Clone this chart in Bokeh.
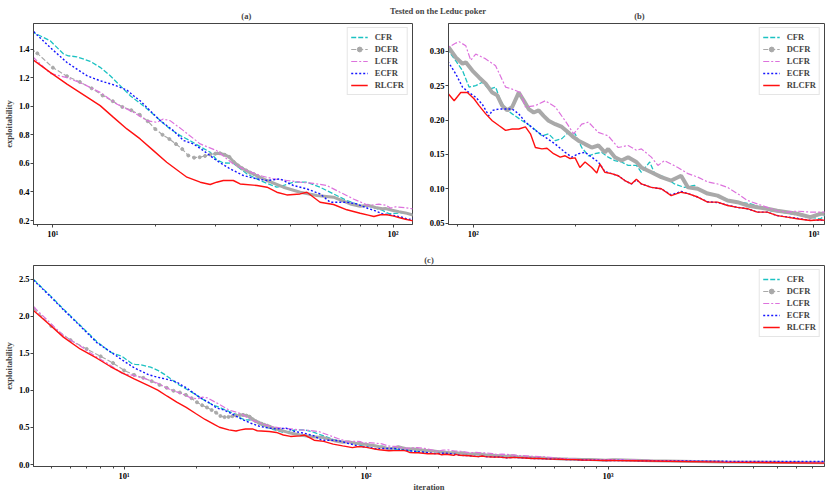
from bokeh.plotting import figure
from bokeh.models import Range1d, FixedTicker, NumeralTickFormatter, Legend, LegendItem, Label
from bokeh.layouts import column, row
from bokeh.embed import file_html
from bokeh.resources import INLINE

# ---------------- data (iteration, exploitability) ----------------
CFR = [(4.22, 2.50), (4.95, 2.28), (5.61, 2.10), (6.58, 1.88), (7.71, 1.66), (8.77, 1.516), (9.82, 1.458),
       (10.75, 1.365), (11.1, 1.353), (11.76, 1.346), (12.87, 1.314), (13.77, 1.272), (14.74, 1.213),
       (15.77, 1.144), (16.87, 1.074), (18.05, 1.02), (19.3, 0.964), (20.7, 0.899), (22.1, 0.841),
       (23.7, 0.794), (25.3, 0.759), (27.1, 0.717), (29.0, 0.678), (30.3, 0.625), (31.7, 0.603),
       (33.9, 0.60), (37.2, 0.526), (40.6, 0.48), (45.5, 0.433), (47.6, 0.445), (50.9, 0.468),
       (55.8, 0.468), (61.0, 0.433), (66.8, 0.386), (73.1, 0.34), (80.0, 0.305),
       (84.5, 0.301), (88.8, 0.286), (92.9, 0.272), (97.1, 0.248), (101.6, 0.250), (106.2, 0.255),
       (111.1, 0.245), (116.2, 0.248), (120.2, 0.228), (124.3, 0.216), (130, 0.209), (139.1, 0.199),
       (148.7, 0.190), (159, 0.177), (166.3, 0.180), (174, 0.170), (181.9, 0.173), (190.2, 0.182),
       (199, 0.180), (208.1, 0.160), (217.7, 0.148), (227.6, 0.151), (238, 0.153), (248.9, 0.146),
       (260.4, 0.141), (272.3, 0.139), (284.8, 0.134), (301.2, 0.134), (311.5, 0.124), (329.6, 0.139),
       (340.7, 0.122), (364.4, 0.117), (389.6, 0.107), (416.8, 0.102), (445.8, 0.105), (466.2, 0.097),
       (498.7, 0.093), (533.3, 0.088), (570.4, 0.083), (610, 0.0805), (652.5, 0.078), (698, 0.073),
       (746.5, 0.068), (798.5, 0.066), (853.9, 0.0636), (913.4, 0.061), (976.8, 0.0587),
       (1044.8, 0.056), (1075, 0.061), (1500, 0.052), (3000, 0.037), (7850, 0.025)]

DCFR = [(4.22, 2.11), (5, 1.87), (6, 1.68), (7, 1.56), (8, 1.46), (9, 1.37), (10, 1.27), (11, 1.21),
        (12, 1.17), (13, 1.125), (14, 1.075), (15, 1.035), (16, 0.995), (17, 0.972), (18, 0.94),
        (19, 0.895), (20, 0.84), (21, 0.80), (22, 0.77), (23, 0.735), (24, 0.70), (25, 0.655),
        (26, 0.64), (27, 0.643), (28, 0.652), (29, 0.662), (30, 0.668), (31, 0.67), (32, 0.66),
        (33, 0.645), (34, 0.61), (35, 0.585), (36, 0.565), (37, 0.55), (38, 0.535), (39, 0.524),
        (40, 0.51), (42.6, 0.48), (47.6, 0.433), (53.3, 0.398), (59.7, 0.375), (66.8, 0.363),
        (74.8, 0.316), (80, 0.30),
        (84.5, 0.306), (88.8, 0.291), (92.9, 0.282), (95, 0.284), (99.3, 0.272), (103.9, 0.262),
        (108.7, 0.253), (113.6, 0.240), (117.5, 0.236), (121.5, 0.221), (125.7, 0.214), (130, 0.219),
        (135.9, 0.240), (140.7, 0.228), (145.4, 0.216), (150.4, 0.211), (155.5, 0.214), (160.8, 0.206),
        (166.3, 0.199), (174, 0.194), (181.9, 0.190), (190.2, 0.182), (196.9, 0.175), (203.5, 0.170),
        (212.8, 0.165), (222.6, 0.160), (232.8, 0.163), (243.4, 0.153), (248.9, 0.158), (260.4, 0.146),
        (272.3, 0.141), (284.8, 0.146), (301.2, 0.139), (311.5, 0.131), (333.2, 0.124), (356.3, 0.117),
        (381.1, 0.112), (407.6, 0.119), (427, 0.102), (455.9, 0.100), (487.6, 0.093), (521.5, 0.090),
        (557.8, 0.083), (596.6, 0.0805), (638.1, 0.0757), (682.5, 0.073), (730, 0.071), (780.7, 0.068),
        (835, 0.066), (893.1, 0.0636), (976.8, 0.0587), (1044.8, 0.0636), (1075, 0.0636),
        (1500, 0.050), (3000, 0.035), (7850, 0.022)]

LCFR = [(4.22, 2.13), (4.95, 1.91), (5.61, 1.74), (6.58, 1.60), (7.71, 1.45), (8.77, 1.341), (9.82, 1.23),
        (11.0, 1.20), (12.3, 1.155), (13.77, 1.097), (15.4, 1.015), (17.26, 0.957), (18.88, 0.899),
        (20.2, 0.887), (21.1, 0.91), (22.1, 0.899), (24.2, 0.829), (27.1, 0.736), (30.3, 0.689),
        (33.9, 0.596), (37.2, 0.549), (40.6, 0.515), (44.5, 0.491), (48.7, 0.48), (53.3, 0.468),
        (58.3, 0.46), (63.8, 0.445), (69.8, 0.398), (76.4, 0.351),
        (84.5, 0.306), (88.8, 0.312), (90.8, 0.314), (95, 0.308), (98.2, 0.287), (101.6, 0.296),
        (108.7, 0.289), (116.2, 0.279), (124.3, 0.248), (130, 0.245), (137.5, 0.240), (142.2, 0.219),
        (152.1, 0.221), (162.6, 0.228), (174, 0.219), (186, 0.199), (196.9, 0.180), (208.1, 0.194),
        (217.7, 0.197), (232.8, 0.182), (248.9, 0.177), (266.3, 0.160), (284.8, 0.163), (301.2, 0.156),
        (311.5, 0.158), (333.2, 0.146), (348.4, 0.134), (364.4, 0.141), (398.6, 0.131), (427, 0.122),
        (455.9, 0.117), (487.6, 0.110), (521.5, 0.107), (557.8, 0.102), (596.6, 0.093), (638.1, 0.083),
        (682.5, 0.078), (730, 0.073), (780.7, 0.068), (835, 0.066), (893.1, 0.0674), (976.8, 0.066),
        (1075, 0.066), (1500, 0.055), (3000, 0.040), (7850, 0.027)]

ECFR = [(4.22, 2.49), (4.95, 2.27), (5.61, 2.09), (6.58, 1.87), (7.71, 1.645), (8.77, 1.523), (9.82, 1.411),
        (11.0, 1.306), (11.76, 1.26), (12.6, 1.213), (13.77, 1.178), (15.07, 1.15), (16.5, 1.113),
        (17.26, 1.073), (18.05, 1.038), (19.3, 0.969), (20.66, 0.90), (22.6, 0.829), (24.2, 0.76),
        (25.9, 0.736), (27.7, 0.689), (30.3, 0.619), (33.2, 0.561), (36.3, 0.515), (39.8, 0.491),
        (42.6, 0.48), (46.6, 0.491), (50.9, 0.445), (55.8, 0.421), (61.0, 0.386), (65.3, 0.328),
        (73.1, 0.328), (78.2, 0.316),
        (84.5, 0.284), (88.8, 0.267), (92.9, 0.248), (97.1, 0.240), (101.6, 0.233), (106.2, 0.223),
        (111.1, 0.206), (113.6, 0.214), (118.8, 0.216), (130, 0.216), (135.9, 0.209), (142.2, 0.197),
        (152.1, 0.185), (162.6, 0.175), (174, 0.165), (186, 0.153), (194.6, 0.146), (203.5, 0.151),
        (212.8, 0.153), (222.6, 0.146), (232.8, 0.139), (243.4, 0.125), (254.6, 0.122), (266.3, 0.119),
        (278.5, 0.112), (291.2, 0.107), (301.2, 0.113), (311.5, 0.107), (333.2, 0.102), (356.3, 0.100),
        (381.1, 0.091), (407.6, 0.096), (427, 0.093), (455.9, 0.088), (487.6, 0.081), (521.5, 0.080),
        (557.8, 0.076), (596.6, 0.073), (638.1, 0.071), (682.5, 0.066), (730, 0.066), (780.7, 0.061),
        (835, 0.059), (893.1, 0.057), (976.8, 0.054), (1075, 0.054), (1500, 0.050), (3000, 0.043),
        (7850, 0.040)]

RLCFR = [(4.22, 2.08), (4.95, 1.88), (5.61, 1.72), (6.58, 1.56), (7.71, 1.435), (8.77, 1.323), (9.82, 1.237),
         (11.0, 1.155), (12.87, 1.05), (13.77, 1.004), (15.07, 0.922), (16.5, 0.841), (18.05, 0.771),
         (19.75, 0.689), (21.6, 0.608), (23.66, 0.538), (24.77, 0.503), (27.1, 0.468), (29.0, 0.452),
         (30.3, 0.468), (31.7, 0.48), (33.9, 0.48), (35.5, 0.456), (39.8, 0.445), (42.6, 0.433),
         (45.5, 0.398), (48.7, 0.379), (53.3, 0.386), (55.8, 0.398), (61.0, 0.328), (66.8, 0.312),
         (73.1, 0.275), (80.0, 0.251),
         (84.5, 0.238), (87.8, 0.228), (91.8, 0.240), (96.0, 0.240), (100.4, 0.231), (103.9, 0.221),
         (108.7, 0.209), (113.6, 0.199), (118.8, 0.192), (124.3, 0.185), (130, 0.187), (135.9, 0.187),
         (142.2, 0.190), (147.1, 0.180), (152.1, 0.160), (159, 0.158), (164.5, 0.159), (172, 0.151),
         (179.9, 0.146), (186, 0.148), (192.4, 0.144), (199, 0.145), (205.5, 0.131), (212.8, 0.139),
         (222.6, 0.131), (230.4, 0.123), (235.4, 0.136), (243.4, 0.124), (254.6, 0.122), (266.3, 0.119),
         (278.5, 0.112), (291.2, 0.107), (301.2, 0.114), (311.5, 0.107), (333.2, 0.102), (356.3, 0.100),
         (381.1, 0.090), (407.6, 0.095), (427, 0.093), (455.9, 0.088), (487.6, 0.0805), (521.5, 0.0805),
         (557.8, 0.0757), (596.6, 0.073), (638.1, 0.071), (682.5, 0.066), (730, 0.066), (780.7, 0.061),
         (835, 0.0587), (893.1, 0.0563), (976.8, 0.0539), (1044.8, 0.055), (1075, 0.054),
         (1500, 0.047), (3000, 0.032), (7850, 0.018)]

SERIES = ["CFR", "DCFR", "LCFR", "ECFR", "RLCFR"]

# axes ticks
YTICKS_A = [0.2, 0.4, 0.6, 0.8, 1.0, 1.2, 1.4]
YTICKS_B = [0.05, 0.10, 0.15, 0.20, 0.25, 0.30]
YTICKS_C = [0.0, 0.5, 1.0, 1.5, 2.0, 2.5]
XMAJOR_A = [10, 100]
XMAJOR_B = [100, 1000]
XMAJOR_C = [10, 100, 1000]
XLABELS = {10: "10\u00b9", 100: "10\u00b2", 1000: "10\u00b3"}
XMINOR_A = [9, 20, 30, 40, 50, 60, 70, 80, 90]
XMINOR_B = [90, 200, 300, 400, 500, 600, 700, 800, 900]
XMINOR_C = [5, 6, 7, 8, 9, 20, 30, 40, 50, 60, 70, 80, 90, 200, 300, 400, 500, 600, 700, 800, 900,
            2000, 3000, 4000, 5000, 6000, 7000]

FONT = "Liberation Serif"
FS = "8.5px"
EDGE = "#444444"
C_CFR = "#1cc2c2"
C_DCFR = "#a9a9a9"
C_LCFR = "#dd72dd"
C_ECFR = "#1515ff"
C_RLCFR = "#ff1010"


def split(data):
    return [d[0] for d in data], [d[1] for d in data]


def make_panel(w, h, xr, yr, yticks, yfmt, xmajor, xminor, borders, band_w,
               ylabel=None, xlabel=None, title=None):
    left, right, top, bottom = borders
    p = figure(width=w, height=h, x_axis_type="log", x_range=Range1d(*xr), y_range=Range1d(*yr),
               toolbar_location=None, output_backend="svg", title=title,
               min_border_left=left, min_border_right=right, min_border_top=top, min_border_bottom=bottom)
    p.xgrid.visible = False
    p.ygrid.visible = False
    p.outline_line_color = EDGE
    p.outline_line_width = 1
    p.background_fill_color = "white"
    p.border_fill_color = "white"
    if title is not None:
        p.title.align = "center"
        p.title.text_font = FONT
        p.title.text_font_style = "bold"
        p.title.text_font_size = FS
        p.title.standoff = 2
    for ax in p.axis:
        ax.major_label_text_font = FONT
        ax.major_label_text_font_style = "bold"
        ax.major_label_text_font_size = FS
        ax.major_label_text_color = "black"
        ax.axis_label_text_font = FONT
        ax.axis_label_text_font_style = "bold"
        ax.axis_label_text_font_size = FS
        ax.axis_line_color = EDGE
        ax.major_tick_line_color = EDGE
        ax.minor_tick_line_color = EDGE
        ax.major_tick_out = 3
        ax.major_tick_in = 0
        ax.minor_tick_out = 2
        ax.minor_tick_in = 0
        ax.major_label_standoff = 1
        ax.axis_label_standoff = 2
    p.xaxis.ticker = FixedTicker(ticks=xmajor, minor_ticks=xminor)
    p.xaxis.major_label_overrides = {t: XLABELS[t] for t in xmajor}
    p.xaxis.axis_label_standoff = -2
    p.yaxis.ticker = FixedTicker(ticks=yticks)
    p.yaxis.formatter = NumeralTickFormatter(format=yfmt)
    p.yaxis.minor_tick_out = 0
    if ylabel:
        p.yaxis.axis_label = ylabel
    if xlabel:
        p.xaxis.axis_label = xlabel

    x, y = split(CFR)
    r_cfr = p.line(x, y, color=C_CFR, line_width=1.3, line_dash="5 2")

    x, y = split(DCFR)
    r_d1 = p.line(x, y, color=C_DCFR, line_width=1.2, line_dash="5 2")
    mx, my = split([d for d in DCFR if d[0] <= 40])
    r_d2 = p.scatter(mx, my, size=3, color=C_DCFR)
    bx, by = split([d for d in DCFR if d[0] >= 30])
    p.line(bx, by, color=C_DCFR, line_width=band_w)

    x, y = split(LCFR)
    r_l = p.line(x, y, color=C_LCFR, line_width=1.2, line_dash="6 2 2 2")
    x, y = split(ECFR)
    r_e = p.line(x, y, color=C_ECFR, line_width=1.4, line_dash="2 2")
    x, y = split(RLCFR)
    r_r = p.line(x, y, color=C_RLCFR, line_width=1.4)

    items = [LegendItem(label=SERIES[0], renderers=[r_cfr]),
             LegendItem(label=SERIES[1], renderers=[r_d1, r_d2]),
             LegendItem(label=SERIES[2], renderers=[r_l]),
             LegendItem(label=SERIES[3], renderers=[r_e]),
             LegendItem(label=SERIES[4], renderers=[r_r])]
    lg = Legend(items=items, location="top_right", margin=4, padding=3, spacing=0,
                glyph_width=17, glyph_height=12, label_height=12, label_standoff=7,
                label_text_font=FONT, label_text_font_style="bold", label_text_font_size=FS,
                border_line_color="#cccccc", border_line_width=1, background_fill_alpha=0.85)
    p.add_layout(lg)
    return p


# title strip (page top)
tf = figure(width=829, height=21, x_range=Range1d(0, 829), y_range=Range1d(0, 21),
            x_axis_type=None, y_axis_type=None, toolbar_location=None, output_backend="svg", min_border=0)
tf.outline_line_color = None
tf.border_fill_color = "white"
tf.background_fill_color = "white"
for txt, xx, yy in [("Tested on the Leduc poker", 424, 11.0), ("(a)", 223, 5.5), ("(b)", 635, 5.5)]:
    tf.add_layout(Label(x=xx, y=yy, text=txt, text_align="center", text_baseline="middle",
                        text_font=FONT, text_font_style="bold", text_font_size=FS))

pa = make_panel(426, 221, (8.77, 114), (0.172, 1.579), YTICKS_A, "0.0", XMAJOR_A, XMINOR_A,
                (33, 14, 2, 18), 3, ylabel="exploitability")
pb = make_panel(403, 221, (84.5, 1075), (0.048, 0.3405), YTICKS_B, "0.00", XMAJOR_B, XMINOR_B,
                (20, 5, 2, 18), 4)
pc = make_panel(829, 252, (4.22, 7850), (-0.027, 2.687), YTICKS_C, "0.0", XMAJOR_C, XMINOR_C,
                (33, 5, 23, 26), 3, ylabel="exploitability", xlabel="iteration", title="(c)")

layout = column(tf, row(pa, pb), pc)
open("out.html", "w").write(file_html(layout, INLINE))
